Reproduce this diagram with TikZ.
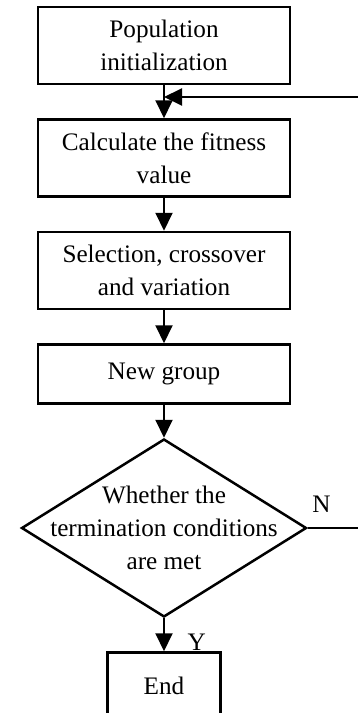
\documentclass[tikz,border=0pt]{standalone}
\usepackage{fontspec}
\setmainfont{Liberation Serif}
\usetikzlibrary{positioning,shapes.geometric,arrows.meta}

\begin{document}
\begin{tikzpicture}[x=1pt, y=1pt, node distance=33pt,
    >={Triangle[length=18pt, width=17pt]},
    txt/.style={font=\fontsize{25.2}{33}\selectfont},
    box/.style={draw, txt, line width=2.5pt, minimum width=252pt, minimum height=77pt, inner sep=0pt, align=center},
    decide/.style={draw, diamond, line width=2.5pt, minimum width=285pt, minimum height=178pt, inner sep=0pt},
    link/.style={line width=2pt}]
    \useasboundingbox (0,0) rectangle (358,-713);

    % 流程框
    \node[box] (init) at (164,-45.5) {Population\\initialization};
    \node[box, below=of init] (fit) {Calculate the fitness\\value};
    \node[box, below=of fit] (sel) {Selection, crossover\\and variation};
    \node[box, minimum height=59pt, below=of sel] (newgrp) {New group};
    \node[decide, below=of newgrp,
        label={[txt, align=center]center:Whether the\\termination conditions\\are met}] (judge) {};
    \node[box, minimum width=113pt, minimum height=66pt, below=of judge] (stop) {End};

    % 主流程箭头
    \draw[link, ->] (init) -- (fit);
    \draw[link, ->] (fit) -- (sel);
    \draw[link, ->] (sel) -- (newgrp);
    \draw[link, ->] (newgrp) -- (judge);
    \draw[link, ->] (judge) -- (stop);

    % 返回支路
    \coordinate (backin) at (358,-97);
    \draw[link, ->] (backin) -- (init.south |- backin);
    \draw[link] (judge.east) -- (judge.east -| backin);

    % 判断标注
    \node[txt, anchor=base west] (nlab) at ([xshift=1pt, yshift=16pt]judge.east) {N};
    \node[txt, anchor=base west] (ylab) at ([xshift=20pt, yshift=-32pt]judge.south) {Y};
\end{tikzpicture}
\end{document}
